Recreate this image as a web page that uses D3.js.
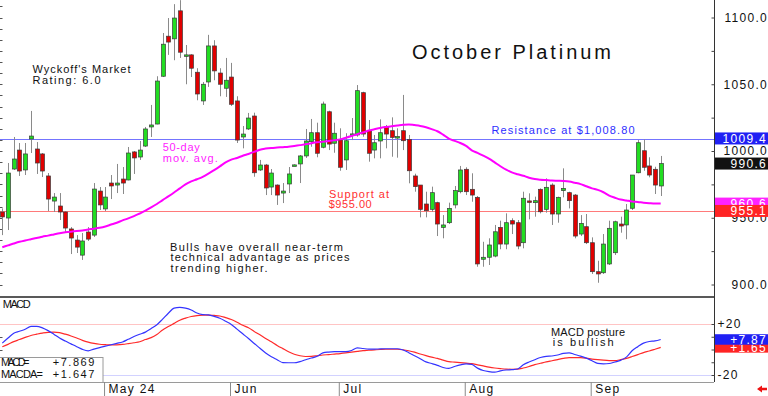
<!DOCTYPE html>
<html>
<head>
<meta charset="utf-8">
<script src="https://cdn.jsdelivr.net/npm/d3@7"></script>
<style>
  body { margin: 0; background: #fff; }
  svg { display: block; font-family: "Liberation Sans", Arial, sans-serif; }
</style>
</head>
<body>
<svg id="chart" width="768" height="396"></svg>
<script>
// trading days (Apr 5 .. Sep 19, 2024), US market holidays skipped
const firstDay = "2024-04-05";
const lastDay = "2024-09-19";
const holidays = ["2024-05-27", "2024-06-19", "2024-07-04", "2024-09-02"];

const monthTicks = ["2024-05-01", "2024-06-03", "2024-07-01", "2024-08-01", "2024-09-03"];
const monthLabels = ["May 24", "Jun", "Jul", "Aug", "Sep"];

const priceTicks = [900, 925, 950, 975, 1000, 1025, 1050, 1075, 1100];
const macdTicks = [-20, -10, 0, 10, 20];

const resistance = 1008.8;
const support = 955.0;

const openP = [954.3, 949.8, 986.5, 1000.7, 985.8, 1009, 1001.5, 997.8, 981.3, 962.5,
  958.8, 954.3, 941.6, 933.3, 922, 939.3, 937, 970, 956.6, 976,
  974.5, 979, 978.3, 999.3, 995.5, 1003.7, 1018, 1020.2, 1056, 1086,
  1084, 1105, 1071, 1072, 1059, 1037.5, 1051.7, 1078.7, 1058.4, 1047,
  1055.4, 1037.5, 1010.5, 1016.5, 1026.2, 985.8, 989.5, 973, 974.5, 968.5,
  975.3, 989.3, 990.3, 996.3, 1007, 1013.7, 1002.8, 1029.4, 1005.8, 1008.2,
  993.3, 1012.5, 1012, 1043.7, 1015.2, 1000.7, 1007.5, 1018.2, 1015.2, 1010.6,
  1015.2, 1008.7, 981.3, 974.5, 960.3, 956.3, 961.3, 942.8, 946.3, 959.6,
  969.5, 986.3, 971.3, 965.3, 918.9, 920.4, 921.3, 942.8, 930.3, 947.8,
  946.3, 931.3, 962.6, 961.3, 971.3, 956.3, 974.5, 952.8, 970.3, 968.8,
  967, 937.8, 943.3, 931.3, 909.6, 908.8, 915.4, 923.8, 945.3, 944.6,
  957.1, 983.7, 1000.2, 988.8, 986.3, 973.8];
const highP = [957, 991, 1010.5, 1006, 1006, 1030, 1006.7, 998.5, 983.5, 968.5,
  968.5, 955, 943, 937, 938.6, 943, 976, 973, 973, 982,
  990.3, 988, 1003, 1000, 1007.5, 1018, 1034.5, 1056, 1088.4, 1099.6,
  1110, 1113, 1079.4, 1072.5, 1062, 1051.7, 1087, 1083, 1062, 1069.7,
  1066, 1041, 1018.7, 1028.5, 1028.7, 993.3, 990.3, 986.5, 975, 976,
  988, 990, 997, 1016.5, 1024, 1021.2, 1037, 1030.2, 1021.2, 1017,
  1013.3, 1024.7, 1049.4, 1044.4, 1023.2, 1012, 1023.7, 1019.5, 1025.2, 1017,
  1042, 1012, 983, 974.5, 969.5, 973.3, 962, 952, 961.3, 973.8,
  988.8, 987.8, 983.3, 966.3, 932, 934.6, 944.6, 947.8, 953.3, 949.6,
  948.3, 969.5, 968.3, 965.8, 972, 979.5, 975.8, 965.8, 987, 969.5,
  967.8, 952, 952.8, 935.3, 917.8, 937.8, 947.8, 947.8, 950.8, 960.3,
  982, 1008.2, 1008.7, 995.3, 988.2, 996.3];
const lowP = [937, 940.8, 985.8, 981.3, 982, 998.5, 982.8, 980.5, 955, 954.3,
  948.3, 938.6, 922.8, 923.6, 918.4, 932.6, 935.6, 955.8, 955, 964,
  968.5, 967.8, 978, 982.8, 993.3, 1003, 1010.5, 1020, 1055.4, 1072,
  1068, 1069.7, 1050, 1055.4, 1038, 1034.5, 1048, 1053, 1041, 1040.5,
  1033.7, 1006, 1002, 1015.7, 980.7, 985, 967, 967, 959.6, 961,
  968.5, 989, 976, 994.8, 1003.2, 995.3, 1002, 1000.7, 998.7, 985.2,
  985.8, 1008.2, 1010.7, 1010.7, 992, 994.5, 994.5, 1002, 995.7, 995,
  1000.7, 975.8, 969.5, 950.3, 950.3, 954.5, 936.3, 934.6, 945.3, 957,
  968.3, 967, 962, 913.3, 913.3, 914.6, 920.4, 926.4, 926.4, 937.8,
  926.4, 927.1, 948.8, 950.8, 953.3, 953.8, 944.6, 946.3, 965.3, 957,
  934.6, 936.3, 930.3, 907.9, 901.3, 907.9, 914.6, 922.1, 938.8, 933.9,
  955.8, 983.3, 985.2, 980.3, 967.8, 966.3];
const closeP = [950.6, 983.5, 994, 985, 997.8, 1011.2, 991, 985, 964, 965.5,
  954.3, 942.3, 934.8, 928, 932.6, 934, 971.5, 959.6, 965.5, 973.8,
  976, 976, 998.5, 994.8, 1000.7, 1016.5, 1019.5, 1052.4, 1080, 1081.6,
  1099.6, 1074, 1072, 1062, 1042.7, 1050, 1078.7, 1060, 1050, 1053,
  1035, 1008.2, 1012.7, 1024.7, 983.7, 989.5, 972.3, 983.5, 967, 970,
  982.8, 989.6, 996.3, 1007.5, 1013.7, 998.3, 1035.2, 1005.2, 1013.3, 987.8,
  1007.7, 1012.8, 1045.2, 1012.7, 998.3, 1006.2, 1013.7, 1012.7, 1010.2, 1010.8,
  1007.7, 985.2, 973.3, 956.3, 955.3, 968.8, 945.3, 944.6, 957, 970.3,
  985.8, 969.5, 967, 915.4, 920.4, 929.6, 939.5, 930.3, 946.3, 945.3,
  928.8, 964.6, 962.2, 962.8, 954.5, 972.8, 952.8, 965.3, 972, 962.8,
  936.3, 945.8, 931.3, 909.6, 907.9, 930.3, 942.1, 947, 943.8, 955.8,
  982, 1006.2, 987.8, 982, 974.5, 990.6];

const ma50 = [927.9, 929.3, 930.7, 932.0, 933.0, 933.9, 934.8, 935.8, 936.6, 937.5,
  938.4, 939.1, 939.6, 940.0, 940.5, 941.2, 941.8, 942.5, 943.5, 944.9,
  946.3, 948.0, 949.5, 951.2, 953.2, 955.3, 957.7, 960.3, 963.2, 966.0,
  968.9, 972.0, 975.0, 977.2, 978.8, 980.6, 983.0, 985.7, 988.5, 991.4,
  993.5, 994.8, 996.4, 997.8, 999.3, 1001.0, 1001.8, 1002.3, 1002.6, 1002.9,
  1003.2, 1003.8, 1004.4, 1005.0, 1005.8, 1006.5, 1007.0, 1007.5, 1008.1, 1008.7,
  1009.9, 1011.2, 1012.6, 1013.9, 1015.3, 1016.3, 1017.3, 1018.0, 1018.6, 1019.1,
  1019.6, 1019.9, 1019.4, 1018.8, 1017.8, 1016.4, 1014.8, 1012.2, 1009.3, 1007.6,
  1006.0, 1003.8, 1000.5, 998.6, 996.5, 994.3, 991.5, 988.6, 986.0, 984.0,
  982.6, 981.4, 980.0, 979.0, 978.5, 978.2, 977.9, 977.7, 977.5, 977.1,
  976.2, 975.2, 973.6, 972.0, 970.9, 969.1, 966.6, 965.0, 963.6, 962.9,
  962.2, 961.8, 961.3, 960.9, 960.6, 960.6];

const macd = [5.0, 9.0, 12.8, 14.3, 15.9, 18.2, 18.2, 17.0, 14.8, 12.0,
  9.0, 6.6, 4.4, 2.2, 0.1, -1.0, 0.3, 1.5, 2.6, 3.7,
  4.8, 5.9, 8.0, 10.2, 12.0, 13.6, 16.4, 19.4, 23.8, 28.4,
  32.4, 33.0, 32.4, 31.0, 28.6, 27.4, 27.1, 26.0, 24.5, 22.2,
  19.7, 16.0, 12.3, 8.6, 4.7, 1.0, -2.8, -5.7, -8.0, -10.3,
  -10.4, -10.4, -9.5, -8.0, -6.7, -5.3, -2.7, -2.0, -1.7, -1.7,
  -1.7, -0.8, 1.3, 0.8, 0.3, 0.3, 0.5, 0.6, 0.6, 0.6,
  -0.4, -2.5, -4.9, -7.2, -9.7, -11.0, -12.4, -14.1, -14.8, -13.3,
  -12.0, -11.2, -11.7, -14.6, -16.5, -17.4, -17.8, -16.8, -16.1, -15.8,
  -15.3, -12.0, -9.8, -8.0, -6.3, -5.4, -5.1, -4.3, -3.0, -2.6,
  -3.9, -5.2, -6.8, -8.8, -10.9, -11.2, -11.0, -9.8, -8.5, -6.0,
  -1.0, 2.2, 5.0, 6.3, 6.7, 7.87];
const macdSignal = [2.2, 4.0, 6.2, 7.8, 9.5, 11.0, 12.0, 12.9, 13.5, 13.6,
  13.2, 12.0, 10.6, 9.0, 7.2, 5.8, 4.8, 4.1, 3.8, 3.6,
  3.7, 4.0, 4.6, 5.3, 6.1, 7.8, 9.3, 11.8, 15.3, 18.0,
  20.5, 23.0, 24.6, 25.9, 26.6, 26.9, 27.0, 26.7, 26.3, 25.0,
  23.5, 21.4, 19.0, 17.0, 14.2, 11.5, 8.6, 6.0, 3.2, 0.7,
  -1.7, -3.7, -4.9, -5.5, -5.4, -4.9, -4.3, -4.0, -3.6, -3.2,
  -2.7, -2.1, -1.5, -0.9, -0.6, -0.3, 0.0, 0.2, 0.2, 0.2,
  -0.2, -1.0, -2.1, -3.5, -4.8, -6.0, -7.0, -8.3, -9.5, -9.9,
  -10.3, -10.7, -11.1, -12.0, -12.9, -13.8, -14.5, -15.0, -15.4, -15.5,
  -15.4, -14.5, -13.3, -11.9, -10.8, -9.7, -8.8, -7.9, -7.0, -6.4,
  -6.4, -6.4, -6.8, -7.5, -8.0, -8.4, -8.7, -8.8, -8.0, -6.9,
  -5.5, -4.0, -2.4, -1.2, 0.2, 1.65];

// value flags on the right axis
const priceFlags = [
  { v: 1009.4, fill: "#2020f4" },
  { v: 990.6, fill: "#111111" },
  { v: 960.6, fill: "#ff22ff" },
  { v: 955.1, fill: "#ff2424" }
];
const macdFlags = [
  { v: 1.65, fill: "#ff2424" },
  { v: 7.87, fill: "#2020f4" }
];

const parseDay = d3.timeParse("%Y-%m-%d");
const fmtDay = d3.timeFormat("%Y-%m-%d");
const days = d3.timeDay.range(parseDay(firstDay), d3.timeDay.offset(parseDay(lastDay), 1))
  .filter(d => d.getDay() !== 0 && d.getDay() !== 6)
  .map(fmtDay)
  .filter(d => !holidays.includes(d));

const svg = d3.select("#chart");
const plotRight = 714;
const mainBottom = 297;
const macdBottom = 382;

const x = d3.scalePoint().domain(days).range([2.3, 660.7]);
const y = d3.scaleLinear().domain([900, 1100]).range([284.5, 17.5]);
const ym = d3.scaleLinear().domain([-20, 20]).range([375, 324]);
const px = d => Math.round(x(d));

svg.append("defs").append("clipPath").attr("id", "mainClip")
  .append("rect").attr("x", 0).attr("y", 0).attr("width", plotRight).attr("height", mainBottom);

// left edge minor ticks
const leftTicks = d3.range(900, 1114, 50 / 6);
svg.append("g").selectAll("line").data(leftTicks).enter().append("line")
  .attr("x1", 0).attr("x2", 2.5)
  .attr("y1", d => Math.round(y(d)) + 0.5).attr("y2", d => Math.round(y(d)) + 0.5)
  .style("stroke", "#555");
svg.append("g").selectAll("line").data(macdTicks).enter().append("line")
  .attr("x1", 0).attr("x2", 2.5)
  .attr("y1", d => Math.round(ym(d)) + 0.5).attr("y2", d => Math.round(ym(d)) + 0.5)
  .style("stroke", "#555");

// support / resistance
svg.append("line")
  .attr("x1", 0).attr("x2", plotRight)
  .attr("y1", Math.round(y(resistance)) + 0.5).attr("y2", Math.round(y(resistance)) + 0.5)
  .style("stroke", "#7474ff");
svg.append("line")
  .attr("x1", 0).attr("x2", plotRight)
  .attr("y1", Math.round(y(support)) + 0.5).attr("y2", Math.round(y(support)) + 0.5)
  .style("stroke", "#ff7a7a");

// candles
const main = svg.append("g").attr("clip-path", "url(#mainClip)");
const candle = main.append("g").classed("candles", true)
  .selectAll("g").data(days).enter().append("g");
candle.append("line")
  .attr("x1", (d) => px(d) + 0.5).attr("x2", (d) => px(d) + 0.5)
  .attr("y1", (d, i) => y(highP[i])).attr("y2", (d, i) => y(lowP[i]))
  .style("stroke", "#8a8a8a");
candle.append("rect")
  .attr("x", d => px(d) - 1.5)
  .attr("width", 4)
  .attr("y", (d, i) => y(Math.max(openP[i], closeP[i])))
  .attr("height", (d, i) => Math.max(Math.abs(y(openP[i]) - y(closeP[i])), 1.5))
  .style("fill", (d, i) => closeP[i] >= openP[i] ? "#22dd22" : "#e00000")
  .style("stroke", "#3a3a3a")
  .style("stroke-width", 0.7);

// 50-day moving average
main.append("path")
  .datum(days)
  .attr("d", d3.line().x(d => x(d)).y((d, i) => y(ma50[i])).curve(d3.curveMonotoneX))
  .style("fill", "none")
  .style("stroke", "#ff00ff")
  .style("stroke-width", 2);

// MACD panel guide lines
svg.append("line").attr("x1", 0).attr("x2", plotRight)
  .attr("y1", Math.round(ym(20)) + 0.5).attr("y2", Math.round(ym(20)) + 0.5)
  .style("stroke", "#ffc4c4");
svg.append("line").attr("x1", 0).attr("x2", plotRight)
  .attr("y1", Math.round(ym(-20)) + 0.5).attr("y2", Math.round(ym(-20)) + 0.5)
  .style("stroke", "#d2d2ff");

svg.append("path").datum(days)
  .attr("d", d3.line().x(d => x(d)).y((d, i) => ym(macdSignal[i])).curve(d3.curveMonotoneX))
  .style("fill", "none").style("stroke", "#ff2a2a").style("stroke-width", 1.2);
svg.append("path").datum(days)
  .attr("d", d3.line().x(d => x(d)).y((d, i) => ym(macd[i])).curve(d3.curveMonotoneX))
  .style("fill", "none").style("stroke", "#3434ff").style("stroke-width", 1.2);

// frame lines
svg.append("line").attr("x1", 0).attr("x2", plotRight).attr("y1", mainBottom).attr("y2", mainBottom)
  .style("stroke", "#222").style("stroke-width", 1.3);
svg.append("line").attr("x1", 0).attr("x2", plotRight).attr("y1", macdBottom + 0.5).attr("y2", macdBottom + 0.5)
  .style("stroke", "#9a9a9a");
svg.append("line").attr("x1", plotRight + 0.5).attr("x2", plotRight + 0.5).attr("y1", 0).attr("y2", macdBottom)
  .style("stroke", "#333");

// right price axis
const yAxis = d3.axisRight(y).tickValues(priceTicks).tickSize(-3).tickSizeOuter(0)
  .tickFormat(v => v % 50 === 0 ? v.toFixed(1) : "");
const gy = svg.append("g").attr("transform", `translate(${plotRight + 0.5},0)`).call(yAxis);
gy.select(".domain").remove();
gy.selectAll("line").style("stroke", "#444");
gy.selectAll("text")
  .attr("x", 53.5).attr("text-anchor", "end")
  .style("font-family", "Liberation Sans, Arial, sans-serif")
  .style("font-size", "12px").style("letter-spacing", "1.3px").style("fill", "#111");

// right MACD axis
const mAxis = d3.axisRight(ym).tickValues(macdTicks).tickSize(-3).tickSizeOuter(0)
  .tickFormat(v => Math.abs(v) === 20 ? (v > 0 ? "+20" : "-20") : "");
const gm = svg.append("g").attr("transform", `translate(${plotRight + 0.5},0)`).call(mAxis);
gm.select(".domain").remove();
gm.selectAll("line").style("stroke", "#444");
gm.selectAll("text")
  .attr("x", 3).attr("text-anchor", "start")
  .style("font-family", "Liberation Sans, Arial, sans-serif")
  .style("font-size", "12px").style("letter-spacing", "1.3px").style("fill", "#111");

// value flags
function drawFlags(data, scale, h) {
  const g = svg.append("g").selectAll("g").data(data).enter().append("g");
  g.append("rect")
    .attr("x", plotRight + 1).attr("width", 768 - plotRight)
    .attr("y", d => scale(d.v) - h / 2).attr("height", h)
    .style("fill", d => d.fill);
  g.append("text")
    .attr("x", 767).attr("y", d => scale(d.v) + 4.3)
    .attr("text-anchor", "end")
    .style("font-size", "12px").style("letter-spacing", "1.3px").style("fill", "#fff")
    .text(d => (scale === ym ? (d.v >= 0 ? "+" : "") + d.v.toFixed(2) : d.v.toFixed(1)));
}
drawFlags(priceFlags, y, 12);
drawFlags(macdFlags, ym, 10.5);

// date axis
const xAxis = d3.axisBottom(x).tickValues(monthTicks).tickSize(14).tickSizeOuter(0)
  .tickFormat((d, i) => monthLabels[i]);
const gx = svg.append("g").attr("transform", `translate(-1.3,${macdBottom})`).call(xAxis);
gx.select(".domain").remove();
gx.selectAll("line").style("stroke", "#8a8a8a");
gx.selectAll("text")
  .attr("x", 4).attr("y", 11).attr("dy", null).attr("text-anchor", "start")
  .style("font-family", "Liberation Sans, Arial, sans-serif")
  .style("font-size", "12px").style("letter-spacing", "1.3px").style("fill", "#111");

// MACD readout box
svg.append("rect").attr("x", -1).attr("y", 357.5).attr("width", 104).attr("height", 25)
  .style("fill", "#fff").style("stroke", "#9a9a9a");

// annotation texts: [text, x, baseline, width, size, colour]
const notes = [
  ["October Platinum", 412, 59.3, 199, 20, "#111"],
  ["Wyckoff's Market", 32.5, 73, 98, 11, "#111"],
  ["Rating: 6.0", 32.5, 83.5, 68, 11, "#111"],
  ["50-day", 162.7, 151, 37, 11, "#ff22ff"],
  ["mov. avg.", 162.7, 161.5, 55, 11, "#ff22ff"],
  ["Resistance at $1,008.80", 491.5, 134.3, 143, 11, "#2e2eff"],
  ["Support at", 329, 197.5, 60, 11, "#ff3030"],
  ["$955.00", 328.7, 207.8, 43, 11, "#ff3030"],
  ["Bulls have overall near-term", 170, 250.5, 173, 11, "#111"],
  ["technical advantage as prices", 170.5, 261, 179, 11, "#111"],
  ["trending higher.", 170.5, 271.5, 97, 11, "#111"],
  ["MACD posture", 551, 335.8, 74, 11, "#111"],
  ["is bullish", 552.7, 346, 61, 11, "#111"],
  ["MACD", 2.7, 308.3, 28, 11, "#111"],
  ["MACD=", 1, 366.2, 28.5, 11, "#111"],
  ["+7.869", 52.7, 366.2, 41.6, 11, "#111"],
  ["MACDA=", 1, 377.7, 42, 11, "#111"],
  ["+1.647", 52.7, 377.7, 41.6, 11, "#111"]
];
svg.append("g").selectAll("text").data(notes).enter().append("text")
  .attr("x", d => d[1]).attr("y", d => d[2])
  .attr("textLength", d => d[3]).attr("lengthAdjust", "spacing")
  .style("font-size", d => d[4] + "px")
  .style("fill", d => d[5])
  .text(d => d[0]);

// little red arrow bottom right
svg.append("path")
  .attr("d", "M757,389 L762,385.5 L762,387.8 L767,387.8 L767,390.2 L762,390.2 L762,392.5 Z")
  .style("fill", "#ee1111");
</script>
</body>
</html>
